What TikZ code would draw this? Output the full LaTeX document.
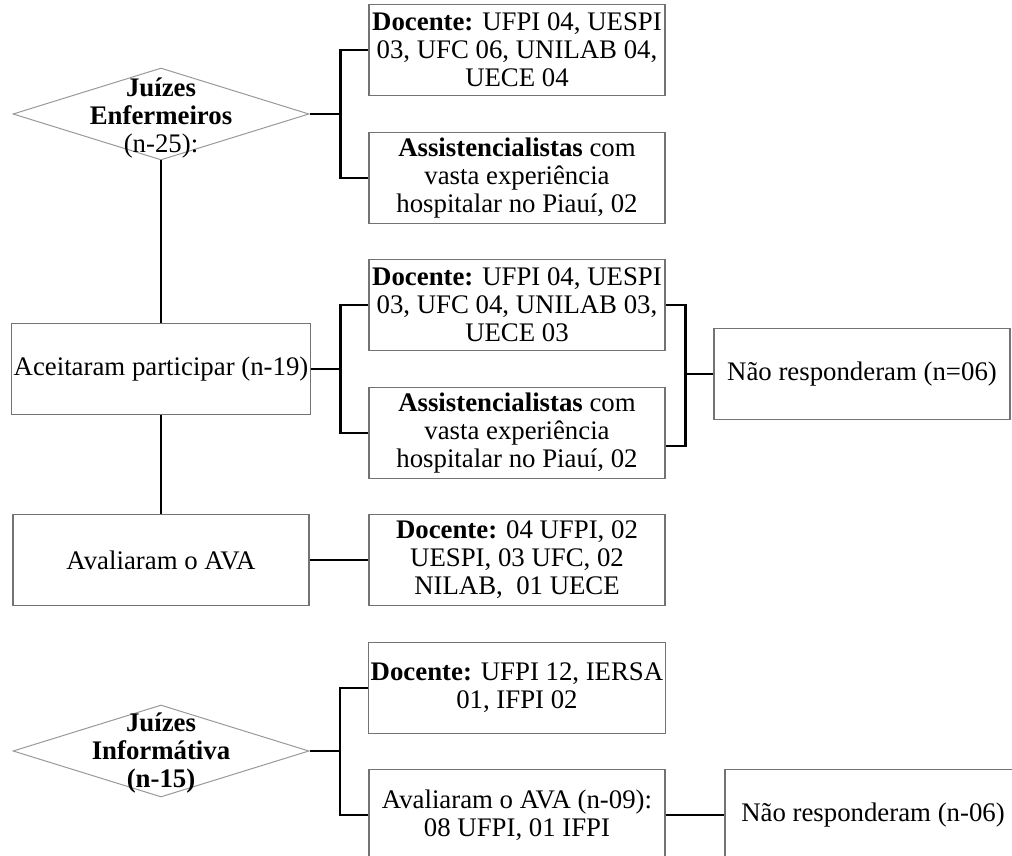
\documentclass[tikz,border=0pt]{standalone}
\usepackage{fontspec}
\setmainfont{Liberation Serif}
\usetikzlibrary{shapes.geometric}

\begin{document}
\begin{tikzpicture}[%
      x=0.5pt, y=-0.5pt,
      every node/.style={font=\fontsize{13.4}{14}\selectfont, align=center},
      caixa/.style={draw=black!55, line width=0.7pt, minimum width=148pt, minimum height=45.5pt, inner sep=1pt},
      juiz/.style={diamond, draw=black!40, line width=0.5pt, minimum width=148pt, minimum height=46pt, inner sep=0pt},
      ligacao/.style={color=black, line width=1.4pt},
      ]
      \useasboundingbox (0,0) rectangle (1012,856);
      \clip (0,0) rectangle (1012,856);

      % juizes enfermeiros
      \node [juiz] (enf) at (161,114) {};
      \node (enftxt) at (161,118) {\textbf{Juízes}\\\textbf{Enfermeiros}\\(n-25):};
      \node [caixa] (doc1) at (517,50) {\textbf{Docente:} UFPI 04, UESPI\\03, UFC 06, UNILAB 04,\\UECE 04};
      \node [caixa] (ass1) at (517,178) {\textbf{Assistencialistas} com\\vasta experiência\\hospitalar no Piauí, 02};

      \node [caixa] (acc) at (161,369) {Aceitaram participar (n-19)};
      \node [caixa] (doc2) at (517,305) {\textbf{Docente:} UFPI 04, UESPI\\03, UFC 04, UNILAB 03,\\UECE 03};
      \node [caixa] (ass2) at (517,433) {\textbf{Assistencialistas} com\\vasta experiência\\hospitalar no Piauí, 02};
      \node [caixa] (nao1) at (862,374) {Não responderam (n=06)};

      \node [caixa] (aval) at (161,560) {Avaliaram o AVA};
      \node [caixa] (doc3) at (517,560) {\textbf{Docente:} 04 UFPI, 02\\UESPI, 03 UFC, 02\\NILAB,\ \ 01 UECE};

      % juizes informatica
      \node [juiz] (inf) at (161,751) {};
      \node (inftxt) at (161,753) {\textbf{Juízes}\\\textbf{Informátiva}\\\textbf{(n-15)}};
      \node [caixa] (doc4) at (517,688) {\textbf{Docente:} UFPI 12, IERSA\\01, IFPI 02};
      \node [caixa] (ava2) at (517,815) {Avaliaram o AVA (n-09):\\08 UFPI, 01 IFPI};
      \node [caixa] (nao2) at (873,815) {Não responderam (n-06)};

      \draw [ligacao] (doc1.west) -- ++(-28,0) coordinate (j1) |- (ass1.west);
      \draw [ligacao] (enf.east) -- (enf.east -| j1);
      \draw [ligacao] (enf.south) -- (acc.north);

      \draw [ligacao] (doc2.west) -- ++(-28,0) coordinate (j2) |- (ass2.west);
      \draw [ligacao] (acc.east) -- (acc.east -| j2);
      \draw [ligacao] (doc2.east) -- ++(20,0) coordinate (j3) |- ([yshift=-6.5pt]ass2.east);
      \draw [ligacao] (nao1.west) -- (nao1.west -| j3);
      \draw [ligacao] (acc.south) -- (aval.north);
      \draw [ligacao] (aval.east) -- (doc3.west);

      \draw [ligacao] (doc4.west) -- ++(-28,0) coordinate (j4) |- (ava2.west);
      \draw [ligacao] (inf.east) -- (inf.east -| j4);
      \draw [ligacao] (ava2.east) -- (nao2.west);
\end{tikzpicture}
\end{document}
